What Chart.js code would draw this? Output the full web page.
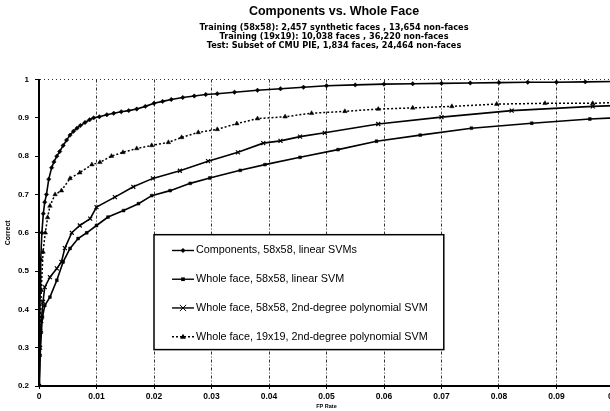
<!DOCTYPE html>
<html>
<head>
<meta charset="utf-8">
<title>Components vs. Whole Face</title>
<script src="https://cdn.jsdelivr.net/npm/chart.js@4/dist/chart.umd.min.js"></script>
<style>
  html, body { margin: 0; padding: 0; overflow: hidden; background: #fff; }
  canvas { display: block; }
</style>
</head>
<body>
<canvas id="chart" width="668" height="411"></canvas>
<script>
// --- data ---
const seriesLabels = [
  'Components, 58x58, linear SVMs',
  'Whole face, 58x58, linear SVM',
  'Whole face, 58x58, 2nd-degree polynomial SVM',
  'Whole face, 19x19, 2nd-degree polynomial SVM'
];

const compX = [0, 0.0001, 0.0002, 0.0003, 0.0005, 0.00075, 0.001, 0.0013, 0.0017, 0.0022, 0.0026, 0.0031, 0.0036, 0.0042, 0.0048, 0.0054, 0.006, 0.0066, 0.0072, 0.008, 0.0088, 0.0095, 0.0105, 0.0118, 0.013, 0.0143, 0.0156, 0.017, 0.0185, 0.02, 0.0215, 0.023, 0.025, 0.027, 0.029, 0.031, 0.034, 0.038, 0.042, 0.046, 0.05, 0.055, 0.06, 0.065, 0.07, 0.075, 0.08, 0.085, 0.09, 0.095, 0.1];
const compY = [0.2, 0.33, 0.45, 0.53, 0.6, 0.65, 0.68, 0.7, 0.74, 0.77, 0.785, 0.8, 0.812, 0.828, 0.842, 0.855, 0.865, 0.873, 0.88, 0.888, 0.895, 0.9, 0.903, 0.908, 0.912, 0.916, 0.919, 0.923, 0.93, 0.938, 0.943, 0.948, 0.953, 0.957, 0.961, 0.963, 0.967, 0.972, 0.976, 0.98, 0.984, 0.986, 0.988, 0.989, 0.99, 0.991, 0.992, 0.993, 0.993, 0.994, 0.995];

const linX = [0, 0.0002, 0.0004, 0.0006, 0.001, 0.0019, 0.0031, 0.0042, 0.0054, 0.0068, 0.0083, 0.01, 0.012, 0.0147, 0.0173, 0.0196, 0.0228, 0.0263, 0.0297, 0.035, 0.0393, 0.0454, 0.052, 0.0587, 0.0663, 0.0752, 0.0857, 0.0958, 0.1];
const linY = [0.2, 0.28, 0.34, 0.38, 0.41, 0.432, 0.476, 0.524, 0.559, 0.585, 0.6, 0.619, 0.641, 0.658, 0.676, 0.697, 0.71, 0.729, 0.743, 0.763, 0.778, 0.797, 0.817, 0.839, 0.855, 0.873, 0.886, 0.897, 0.9];

const polyX = [0, 0.0002, 0.0004, 0.0007, 0.001, 0.0019, 0.0031, 0.0039, 0.0045, 0.0057, 0.0071, 0.0089, 0.01, 0.0132, 0.0164, 0.0198, 0.0245, 0.0294, 0.0346, 0.039, 0.042, 0.0454, 0.0497, 0.059, 0.07, 0.0822, 0.0963, 0.1];
const polyY = [0.2, 0.3, 0.37, 0.42, 0.458, 0.484, 0.507, 0.524, 0.56, 0.6, 0.619, 0.637, 0.667, 0.693, 0.72, 0.742, 0.762, 0.787, 0.81, 0.834, 0.84, 0.851, 0.861, 0.884, 0.902, 0.919, 0.93, 0.932];

const smallX = [0, 0.0002, 0.0004, 0.0007, 0.0011, 0.0015, 0.0019, 0.0028, 0.0039, 0.0054, 0.0071, 0.0092, 0.0106, 0.0126, 0.0146, 0.017, 0.0196, 0.0225, 0.0248, 0.0277, 0.031, 0.0344, 0.038, 0.0428, 0.0474, 0.0532, 0.059, 0.065, 0.0718, 0.0796, 0.088, 0.0963, 0.1];
const smallY = [0.2, 0.35, 0.45, 0.55, 0.6, 0.64, 0.67, 0.7, 0.71, 0.742, 0.757, 0.778, 0.784, 0.8, 0.81, 0.82, 0.828, 0.836, 0.849, 0.862, 0.87, 0.885, 0.898, 0.903, 0.912, 0.917, 0.923, 0.926, 0.93, 0.936, 0.938, 0.938, 0.94];

const xTickLabels = ['0', '0.01', '0.02', '0.03', '0.04', '0.05', '0.06', '0.07', '0.08', '0.09', '0.1'];
const yTickLabels = ['0.2', '0.3', '0.4', '0.5', '0.6', '0.7', '0.8', '0.9', '1'];

const FONT = '"Liberation Sans", Arial, sans-serif';
const WIDE = '"DejaVu Sans", Verdana, sans-serif';
const toPoints = (xs, ys) => xs.map((x, i) => ({ x: x, y: ys[i] }));

// simple marker painter, used for the legend samples
function drawMarker(ctx, style, r, x, y) {
  ctx.beginPath();
  if (style === 'rectRot') {
    ctx.moveTo(x, y - r); ctx.lineTo(x + r, y); ctx.lineTo(x, y + r); ctx.lineTo(x - r, y); ctx.closePath();
    ctx.fill();
  } else if (style === 'rect') {
    ctx.rect(x - r * 0.8, y - r * 0.8, r * 1.6, r * 1.6);
    ctx.fill();
  } else if (style === 'crossRot') {
    ctx.moveTo(x - r, y - r); ctx.lineTo(x + r, y + r);
    ctx.moveTo(x + r, y - r); ctx.lineTo(x - r, y + r);
    ctx.stroke();
  } else if (style === 'triangle') {
    ctx.moveTo(x, y - r); ctx.lineTo(x + r, y + r * 0.7); ctx.lineTo(x - r, y + r * 0.7); ctx.closePath();
    ctx.fill();
  }
}

// legend box sitting inside the plot, between the 0.02 and 0.07 gridlines
const boxLegend = {
  id: 'boxLegend',
  afterDatasetsDraw(chart) {
    const { ctx, scales: { x, y } } = chart;
    const left = x.getPixelForValue(0.02);
    const right = x.getPixelForValue(0.0704);
    const top = y.getPixelForValue(0.595);
    const bottom = y.getPixelForValue(0.295);
    ctx.save();
    ctx.fillStyle = '#fff';
    ctx.fillRect(left, top, right - left, bottom - top);
    ctx.strokeStyle = '#000';
    ctx.lineWidth = 1.5;
    ctx.strokeRect(left, top, right - left, bottom - top);
    const rowH = (bottom - top) / 4;
    chart.data.datasets.forEach((ds, i) => {
      const cy = top + rowH * (i + 0.55);
      ctx.strokeStyle = '#000';
      ctx.fillStyle = '#000';
      ctx.lineWidth = 1.4;
      ctx.setLineDash(ds.borderDash || []);
      ctx.beginPath();
      ctx.moveTo(left + 18, cy);
      ctx.lineTo(left + 40, cy);
      ctx.stroke();
      ctx.setLineDash([]);
      ctx.lineWidth = 1;
      drawMarker(ctx, ds.pointStyle, ds.pointRadius + 0.3, left + 29, cy);
      ctx.font = '10.8px ' + FONT;
      ctx.textBaseline = 'middle';
      ctx.textAlign = 'left';
      ctx.fillText(ds.label, left + 42, cy);
    });
    ctx.restore();
  }
};

const ctx = document.getElementById('chart');

new Chart(ctx, {
  type: 'line',
  data: {
    datasets: [
      {
        label: seriesLabels[0],
        data: toPoints(compX, compY),
        borderColor: '#000', backgroundColor: '#000',
        borderWidth: 1.6, pointStyle: 'rectRot', pointRadius: 2.2, pointBorderWidth: 0.5
      },
      {
        label: seriesLabels[1],
        data: toPoints(linX, linY),
        borderColor: '#000', backgroundColor: '#000',
        borderWidth: 1.6, pointStyle: 'rect', pointRadius: 2, pointBorderWidth: 0.5
      },
      {
        label: seriesLabels[2],
        data: toPoints(polyX, polyY),
        borderColor: '#000', backgroundColor: '#000',
        borderWidth: 1.6, pointStyle: 'crossRot', pointRadius: 2.8, pointBorderWidth: 1.2
      },
      {
        label: seriesLabels[3],
        data: toPoints(smallX, smallY),
        borderColor: '#000', backgroundColor: '#000',
        borderWidth: 1.5, borderDash: [2, 2], pointStyle: 'triangle', pointRadius: 2.6, pointBorderWidth: 0.5
      }
    ]
  },
  options: {
    responsive: false,
    animation: false,
    devicePixelRatio: 1,
    layout: { padding: 0 },
    elements: { line: { tension: 0 } },
    plugins: {
      legend: { display: false },
      tooltip: { enabled: false },
      title: {
        display: true,
        text: 'Components vs. Whole Face',
        color: '#000',
        font: { family: FONT, size: 12.5, weight: 'bold', lineHeight: 1.2 },
        padding: { top: 4.5, bottom: 0 }
      },
      subtitle: {
        display: true,
        text: [
          'Training (58x58): 2,457 synthetic faces , 13,654 non-faces',
          'Training (19x19): 10,038 faces , 36,220 non-faces',
          'Test: Subset of CMU PIE, 1,834 faces, 24,464 non-faces'
        ],
        color: '#000',
        font: { family: WIDE, size: 8.2, weight: 'bold', lineHeight: 1.1 },
        padding: { top: 3.5, bottom: 29.5 }
      }
    },
    scales: {
      x: {
        type: 'linear',
        min: 0,
        max: 0.1,
        afterFit: s => { s.height = 25; },
        ticks: {
          stepSize: 0.01,
          color: '#000',
          padding: 3,
          maxRotation: 0,
          font: { family: FONT, size: 8.5, weight: 'bold' },
          callback: (v, i) => xTickLabels[i]
        },
        grid: {
          color: c => (c.tick && c.tick.value === 0) ? 'rgba(0,0,0,0)' : '#333',
          lineWidth: 1,
          tickColor: '#000',
          tickLength: 3
        },
        border: { display: true, color: '#000', width: 2, dash: [3, 2, 1, 2] },
        title: {
          display: true,
          text: 'FP Rate',
          color: '#000',
          font: { family: FONT, size: 5.5, weight: 'bold', lineHeight: 1.2 },
          padding: { top: 0, bottom: 1 }
        }
      },
      y: {
        type: 'linear',
        min: 0.2,
        max: 1,
        afterFit: s => { s.width = 39; },
        ticks: {
          stepSize: 0.1,
          color: '#000',
          padding: 6,
          font: { family: FONT, size: 8, weight: 'bold' },
          callback: (v, i) => yTickLabels[i]
        },
        grid: {
          color: c => (c.tick && c.tick.value === 1) ? '#333' : 'rgba(0,0,0,0)',
          lineWidth: 1,
          tickColor: '#000',
          tickLength: 4
        },
        border: { display: true, color: '#000', width: 2, dash: [1, 3] },
        title: {
          display: true,
          text: 'Correct',
          color: '#000',
          font: { family: FONT, size: 7, weight: 'bold', lineHeight: 1.2 },
          padding: { top: 4, bottom: 0 }
        }
      },
      // empty right-hand axis: keeps the plot edge at 0.1 past the window while the titles stay centred
      y2: {
        type: 'linear',
        position: 'right',
        display: true,
        afterFit: s => { s.width = 54; },
        ticks: { display: false },
        grid: { display: false },
        border: { display: false }
      }
    }
  },
  plugins: [boxLegend]
});
</script>
</body>
</html>
